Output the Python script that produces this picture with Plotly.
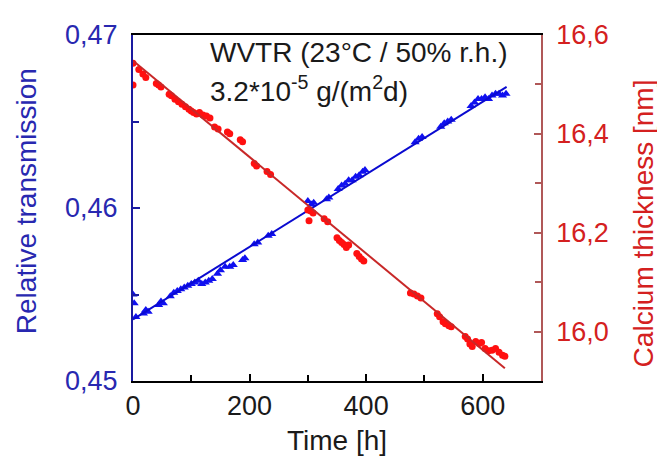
import plotly.graph_objects as go

# Relative transmission (blue triangles)
trans_time = [0, 2, 5, 18, 22, 26, 44, 48, 52, 64, 70, 76, 82, 88, 94, 100, 106, 112, 118, 124,
              130, 136, 145, 150, 158, 166, 172, 188, 192, 208, 214, 232, 238, 300, 306, 310,
              332, 336, 352, 358, 364, 370, 376, 382, 388, 394, 398, 484, 490, 496, 528, 534,
              540, 546, 580, 586, 592, 598, 604, 610, 616, 622, 628, 634, 640]
trans_val = [0.4550, 0.4545, 0.4537, 0.4539, 0.4541, 0.4540, 0.4544, 0.4546, 0.4545, 0.4549,
             0.4551, 0.4552, 0.4553, 0.4554, 0.4555, 0.4556, 0.4557, 0.4558, 0.4556, 0.4557,
             0.4558, 0.4559, 0.4562, 0.4564, 0.4566, 0.4566, 0.4567, 0.4570, 0.4571, 0.4579,
             0.4580, 0.4584, 0.4585, 0.4604, 0.4602, 0.4603, 0.4605, 0.4606, 0.4611, 0.4613,
             0.4614, 0.4616, 0.4616, 0.4618, 0.4619, 0.4621, 0.4622, 0.4638, 0.4640, 0.4641,
             0.4647, 0.4649, 0.4650, 0.4651, 0.4659, 0.4661, 0.4663, 0.4663, 0.4664, 0.4663,
             0.4665, 0.4666, 0.4666, 0.4665, 0.4666]
trans_fit_time = [0, 641]
trans_fit_val = [0.45356, 0.4670]

# Calcium thickness (red circles)
ca_time = [0, 0, 10, 17, 22, 40, 44, 48, 62, 66, 72, 78, 84, 90, 96, 100, 104, 109, 114, 120,
           126, 132, 140, 146, 162, 166, 184, 188, 208, 212, 230, 236, 300, 305, 309, 302, 328,
           334, 350, 354, 358, 362, 366, 370, 384, 388, 392, 396, 476, 482, 488, 494, 522, 526,
           532, 536, 542, 546, 570, 574, 578, 582, 588, 594, 598, 604, 610, 616, 622, 628, 634, 638]
ca_val = [16.543, 16.499, 16.530, 16.521, 16.514, 16.502, 16.499, 16.495, 16.480, 16.477,
          16.470, 16.465, 16.460, 16.455, 16.450, 16.446, 16.443, 16.440, 16.443, 16.438,
          16.436, 16.432, 16.414, 16.410, 16.404, 16.400, 16.388, 16.384, 16.340, 16.335,
          16.324, 16.318, 16.246, 16.244, 16.240, 16.224, 16.228, 16.222, 16.190, 16.184,
          16.180, 16.176, 16.170, 16.175, 16.158, 16.152, 16.147, 16.143, 16.078, 16.076,
          16.072, 16.068, 16.036, 16.030, 16.020, 16.016, 16.012, 16.010, 15.990, 15.985,
          15.975, 15.970, 15.980, 15.976, 15.978, 15.966, 15.961, 15.962, 15.966, 15.958,
          15.952, 15.950]
ca_fit_time = [0, 638]
ca_fit_val = [16.548, 15.926]

x_ticks = [0, 200, 400, 600]
y_ticks = [0.45, 0.46, 0.47]
y2_ticks = [16.0, 16.2, 16.4, 16.6]

FONT = "Arial, Liberation Sans, sans-serif"
BLUE_TXT = "#2828b0"
BLUE_AX = "#1a1aa0"
RED_TXT = "#d42020"
RED_AX = "#b05858"
DARK = "#1a1a1a"

fig = go.Figure()
fig.add_trace(go.Scatter(x=trans_time, y=trans_val, mode="markers",
                         marker=dict(symbol="triangle-up", size=8, color="#1010f0"),
                         showlegend=False))
fig.add_trace(go.Scatter(x=trans_fit_time, y=trans_fit_val, mode="lines",
                         line=dict(color="#0a0ad0", width=2), showlegend=False))
fig.add_trace(go.Scatter(x=ca_time, y=ca_val, mode="markers", yaxis="y2",
                         marker=dict(symbol="circle", size=7, color="#ff1010"),
                         showlegend=False))
fig.add_trace(go.Scatter(x=ca_fit_time, y=ca_fit_val, mode="lines", yaxis="y2",
                         line=dict(color="#c82828", width=2), showlegend=False))

# The page body has an 8 px margin, so the figure is 8 px smaller and margins shifted.
fig.update_layout(
    width=657, height=455,
    margin=dict(l=125, r=124, t=19, b=82),
    paper_bgcolor="white", plot_bgcolor="white",
    separators=",.",
    font=dict(family=FONT, size=27, color=DARK),
    xaxis=dict(range=[0, 700], tickvals=x_ticks, ticks="inside", ticklen=7, tickwidth=1.5,
               tickcolor="black", showline=True, linecolor="black", linewidth=2,
               mirror=True, showgrid=False, zeroline=False,
               minor=dict(dtick=100, tick0=0, ticks="inside", ticklen=6, tickcolor="black", showgrid=False),
               tickfont=dict(size=27, color=DARK)),
    yaxis=dict(range=[0.45, 0.47], tickvals=y_ticks, tickformat=".2f", ticks="inside",
               ticklen=7, tickwidth=1.5, tickcolor=BLUE_AX, showline=True, linecolor=BLUE_AX,
               linewidth=2, showgrid=False, zeroline=False, ticklabelstandoff=8,
               minor=dict(dtick=0.005, tick0=0.45, ticks="inside", ticklen=6, tickcolor=BLUE_AX, showgrid=False),
               tickfont=dict(size=27, color=BLUE_TXT)),
    yaxis2=dict(range=[15.9, 16.6], tickvals=y2_ticks, tickformat=".1f", overlaying="y",
                side="right", ticks="inside", ticklen=7, tickwidth=1.5, tickcolor=RED_AX,
                showline=True, linecolor=RED_AX, linewidth=1.5, showgrid=False, zeroline=False,
                ticklabelstandoff=8,
                minor=dict(dtick=0.1, tick0=15.9, ticks="inside", ticklen=6, tickcolor=RED_AX, showgrid=False),
                tickfont=dict(size=27, color=RED_TXT)),
    annotations=[
        dict(x=0.184, y=0.949, xref="paper", yref="paper", xanchor="left", yanchor="middle",
             text="WVTR (23°C / 50% r.h.)", showarrow=False,
             font=dict(size=28, color=DARK, family=FONT)),
        dict(x=0.184, y=0.843, xref="paper", yref="paper", xanchor="left", yanchor="middle",
             text="3.2*10<sup>-5</sup> g/(m<sup>2</sup>d)", showarrow=False,
             font=dict(size=28, color=DARK, family=FONT)),
        dict(x=0.5, y=-0.172, xref="paper", yref="paper", xanchor="center", yanchor="middle",
             text="Time [h]", showarrow=False,
             font=dict(size=28, color=DARK, family=FONT)),
        dict(x=-0.262, y=0.52, xref="paper", yref="paper", xanchor="center", yanchor="middle",
             text="Relative transmission", showarrow=False, textangle=-90,
             font=dict(size=28, color=BLUE_TXT, family=FONT)),
        dict(x=1.252, y=0.455, xref="paper", yref="paper", xanchor="center", yanchor="middle",
             text="Calcium thickness [nm]", showarrow=False, textangle=-90,
             font=dict(size=28, color=RED_TXT, family=FONT)),
    ],
)

fig.write_html("out.html")
